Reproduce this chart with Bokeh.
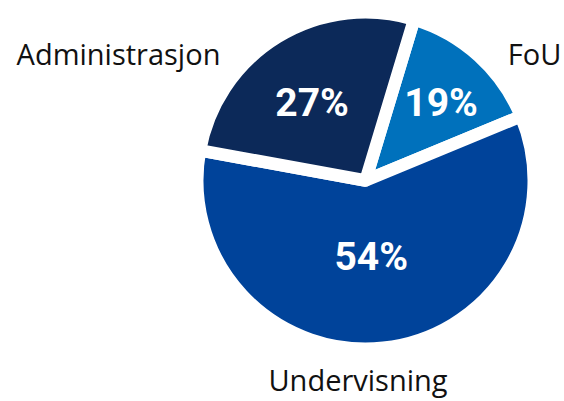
import numpy as np
from bokeh.plotting import figure
from bokeh.models import ColumnDataSource
from bokeh.core.properties import value
from bokeh.embed import file_html
from bokeh.resources import INLINE

# ---- data ----
categories = ["FoU", "Undervisning", "Administrasjon"]
label_pct = [19, 54, 27]              # printed percentages
wedge_share = [14.1, 59.1, 26.8]      # angular share of each wedge as drawn in the reference
colors = ["#0071bc", "#00439a", "#0c2959"]

# ---- layout / style ----
W, H = 564, 401
cx, cy = 365, 221            # pie centre (data == px)
R = 168.25                   # wedge radius (the white border eats half the stroke)
gap = 12.5                   # white separator width
start_cw = 16.8              # first wedge starts this many degrees clockwise from 12 o'clock
pct_radius = [107.1, 79.2, 92.7]
pct_angle_nudge = [2.7, 1.9, -3.7]
name_x = [534, 357.5, 118]
name_y = [335, 9, 335]

p = figure(width=W, height=H, x_range=(0, W), y_range=(0, H),
           output_backend="svg", toolbar_location=None, min_border=0,
           x_axis_type=None, y_axis_type=None)
p.grid.visible = False
p.outline_line_color = None
p.background_fill_color = "white"
p.border_fill_color = "white"

share = np.array(wedge_share, dtype=float)
cum = np.concatenate([[0.0], np.cumsum(share) / share.sum() * 360.0]) + start_cw
cw_start, cw_end = cum[:-1], cum[1:]
start_rad = np.radians(90.0 - cw_start)
end_rad = np.radians(90.0 - cw_end)

src = ColumnDataSource(dict(
    x=[cx] * 3, y=[cy] * 3, start=start_rad, end=end_rad, color=colors,
))
p.wedge(x="x", y="y", radius=R, start_angle="start", end_angle="end",
        direction="clock", fill_color="color", line_color="white",
        line_width=gap, line_join="round", source=src)

mid = (cw_start + cw_end) / 2.0 + np.array(pct_angle_nudge)
lx = cx + np.array(pct_radius) * np.sin(np.radians(mid))
ly = cy + np.array(pct_radius) * np.cos(np.radians(mid))
pct_src = ColumnDataSource(dict(x=lx, y=ly, t=[f"{v}%" for v in label_pct]))
p.text(x="x", y="y", text="t", source=pct_src, text_color="white",
       text_font=value("Roboto"), text_font_style="bold",
       text_font_size="39px", text_align="center", text_baseline="alphabetic",
       y_offset=-2)

name_src = ColumnDataSource(dict(x=name_x, y=name_y, t=categories))
p.text(x="x", y="y", text="t", source=name_src, text_color="#111111",
       text_font=value("Open Sans"), text_font_size="29px",
       text_align="center", text_baseline="alphabetic", y_offset=-13)

open("out.html", "w").write(file_html(p, INLINE))
